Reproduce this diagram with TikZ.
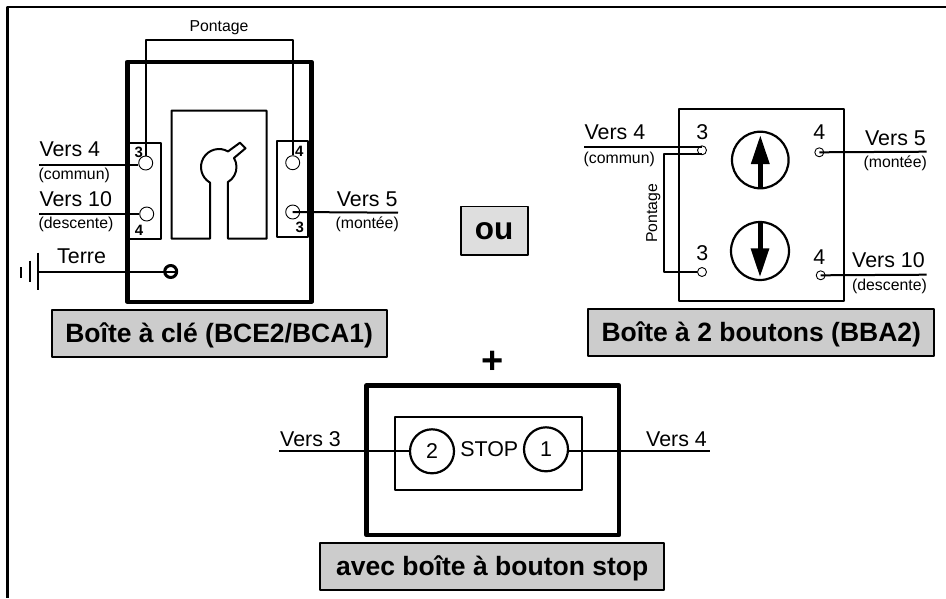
\documentclass[tikz,border=0pt]{standalone}
\usepackage{fontspec}
\setmainfont{Liberation Sans}
\usetikzlibrary{arrows.meta, calc}
\begin{document}
\begin{tikzpicture}[x=1pt,y=-1pt,line join=round,
  wire/.style={line width=2pt},
  vers/.style={inner sep=0pt,font=\fontsize{21.4}{24}\selectfont},
  sub/.style={inner sep=0pt,font=\fontsize{15.8}{18}\selectfont},
  pin/.style={inner sep=0pt,font=\bfseries\fontsize{15}{16}\selectfont},
  num/.style={inner sep=0pt,font=\fontsize{21.4}{24}\selectfont},
  term/.style={circle,draw,inner sep=0pt,line width=0.9pt,minimum size=14pt},
  termsmall/.style={circle,draw,inner sep=0pt,line width=0.9pt,minimum size=9pt},
  thick box/.style={draw,line width=4.4pt,inner sep=0pt},
  thin box/.style={draw,line width=2.2pt,inner sep=0pt},
  button/.style={circle,draw,line width=2.2pt,inner sep=0pt},
  caption/.style={draw,line width=2.2pt,fill=black!20,inner sep=0pt,text height=18pt,text depth=0pt,font=\bfseries\fontsize{26.5}{28}\selectfont}]
\useasboundingbox (0,0) rectangle (946,598);
\draw[line width=2.6pt] (946,7)--(7.5,7)--(7.5,598);
\node[thick box,minimum width=184pt,minimum height=240pt] (boxKey) at (219.4,181.8) {};
\node[thin box,minimum width=32pt,minimum height=96.6pt] (stripL) at (145,191) {};
\node[thin box,minimum width=30.7pt,minimum height=96.6pt] (stripR) at (292.7,189) {};
\draw[line width=2pt] (210,238.7)--(210,182.6) arc[start angle=240,end angle=60,radius=18pt]
  --(240,142.7)--(245.5,148.3)--(234,158) arc[start angle=31,end angle=-60,radius=17.5pt]
  --(228,238.7)--(266.7,238.7)--(266.7,110.7)--(171.5,110.7)--(171.5,238.7)--cycle;
\node[term] (keyA) at (145.7,163) {};
\node[term] (keyB) at (146.7,214) {};
\node[term] (keyC) at (292.7,162.7) {};
\node[term] (keyD) at (292.7,212) {};
\coordinate (v4) at (39.3,165);
\coordinate (v10) at (39.3,214);
\coordinate (v5) at (398,212.7);
\coordinate (earth) at (38.3,271.5);
\draw[wire] (v4)--(keyA.west|-v4);
\draw[wire] (v10)--(keyB.west);
\draw[wire] (v5)--(keyD.center);
\draw[wire] (keyA.north)--(keyA.north|-0,40)--(keyC.north|-0,40)--(keyC.north);
\node[circle,draw,line width=3pt,inner sep=0pt,minimum size=12pt] (screw) at (170.7,271.5) {};
\draw[wire] (earth)--(screw.east);
\draw[line width=2.2pt] (37.7,252.7)--(37.7,290) (30,260.7)--(30,282) (21.3,267.3)--(21.3,278);
\node[vers,anchor=base west] (lblA) at (39.3,156.7) {Vers 4};
\node[sub,anchor=base west] (lblB) at (38.5,179.3) {(commun)};
\node[vers,anchor=base west] (lblC) at (39.3,206.7) {Vers 10};
\node[sub,anchor=base west] (lblD) at (38.5,228.7) {(descente)};
\node[vers,anchor=base east] (lblE) at (397.7,206) {Vers 5};
\node[sub,anchor=base east] (lblF) at (399,228) {(montée)};
\node[vers,anchor=base west] (lblG) at (57,263.3) {Terre};
\node[sub,anchor=base] (lblH) at (219,31.7) {Pontage};
\node[pin] (pinA) at (138.7,152.7) {3};
\node[pin] (pinB) at (139,230) {4};
\node[pin] (pinC) at (299.3,151) {4};
\node[pin] (pinD) at (299.7,227) {3};
\node[caption,minimum width=335pt,minimum height=46.7pt] (capKey) at (219.2,333.3) {Boîte à clé (BCE2/BCA1)};
\node[draw,line width=1.6pt,fill=black!13,inner sep=0pt,minimum width=67pt,minimum height=48.3pt,font=\bfseries\fontsize{31.5}{32}\selectfont] (capOu) at (494.2,230.8) {ou};
\node[thin box,minimum width=164.7pt,minimum height=191.4pt] (boxBtn) at (761.7,205) {};
\node[button,minimum size=56.6pt] (btnUp) at (760.3,160) {};
\node[button,minimum size=58pt] (btnDown) at (760,251) {};
\coordinate (tipUp) at (760.3,135);
\coordinate (tipDown) at (760,277.3);
\draw[line width=5pt,-{Triangle[length=29pt,width=17.4pt]}] (btnUp.south)--(tipUp);
\draw[line width=5pt,-{Triangle[length=29pt,width=17.4pt]}] (btnDown.north)--(tipDown);
\node[termsmall] (btnA) at (702,150.3) {};
\node[termsmall] (btnB) at (819.3,152.3) {};
\node[termsmall] (btnC) at (702,272) {};
\node[termsmall] (btnD) at (820.7,275.3) {};
\coordinate (w4) at (584.3,147);
\coordinate (w5) at (926.7,151.7);
\coordinate (w10) at (926.7,274.7);
\draw[wire] (w4)--(btnA.north|-w4);
\draw[wire] (w5)--(btnB.center);
\draw[wire] (w10)--(btnD.center);
\draw[wire] (btnA.center|-0,153.7)--(664,153.7)--(664,272)--(btnC.west);
\node[vers,anchor=base west] (lblI) at (584.3,139.7) {Vers 4};
\node[sub,anchor=base west] (lblJ) at (583.5,163.3) {(commun)};
\node[vers,anchor=base east] (lblK) at (926,145) {Vers 5};
\node[sub,anchor=base east] (lblL) at (927,167.3) {(montée)};
\node[vers,anchor=base east] (lblM) at (925,267.3) {Vers 10};
\node[sub,anchor=base east] (lblN) at (927,290) {(descente)};
\node[sub,rotate=90,anchor=base] (lblO) at (657,213.3) {Pontage};
\node[num] (numA) at (702.3,132.3) {3};
\node[num] (numB) at (819.3,132) {4};
\node[num] (numC) at (702.3,253.3) {3};
\node[num] (numD) at (819.3,257.3) {4};
\node[caption,minimum width=346pt,minimum height=47pt] (capBtn) at (761.3,332.2) {Boîte à 2 boutons (BBA2)};
\node[inner sep=0pt,font=\bfseries\fontsize{38}{40}\selectfont] (plus) at (492.3,362.7) {+};
\node[thick box,line width=4.5pt,minimum width=252.3pt,minimum height=149.7pt] (boxStop) at (492.8,460.2) {};
\node[thin box,minimum width=187.3pt,minimum height=73.3pt] (panel) at (488.7,453.3) {};
\node[button,minimum size=44pt,font=\fontsize{21.4}{24}\selectfont] (stopB) at (432,451.3) {2};
\node[button,minimum size=44pt,font=\fontsize{21.4}{24}\selectfont] (stopA) at (546,449.3) {1};
\coordinate (s3) at (279.3,450.7);
\coordinate (s4) at (710,450.7);
\draw[wire] (s3)--(stopB.west|-s3);
\draw[wire] (stopA.east|-s4)--(s4);
\node[vers,anchor=base] (lblP) at (489.3,456.7) {STOP};
\node[vers,anchor=base west] (lblQ) at (280,446) {Vers 3};
\node[vers,anchor=base west] (lblR) at (646,446) {Vers 4};
\node[caption,minimum width=344.3pt,minimum height=46.7pt] (capStop) at (492.2,566.7) {avec boîte à bouton stop};
\end{tikzpicture}
\end{document}
